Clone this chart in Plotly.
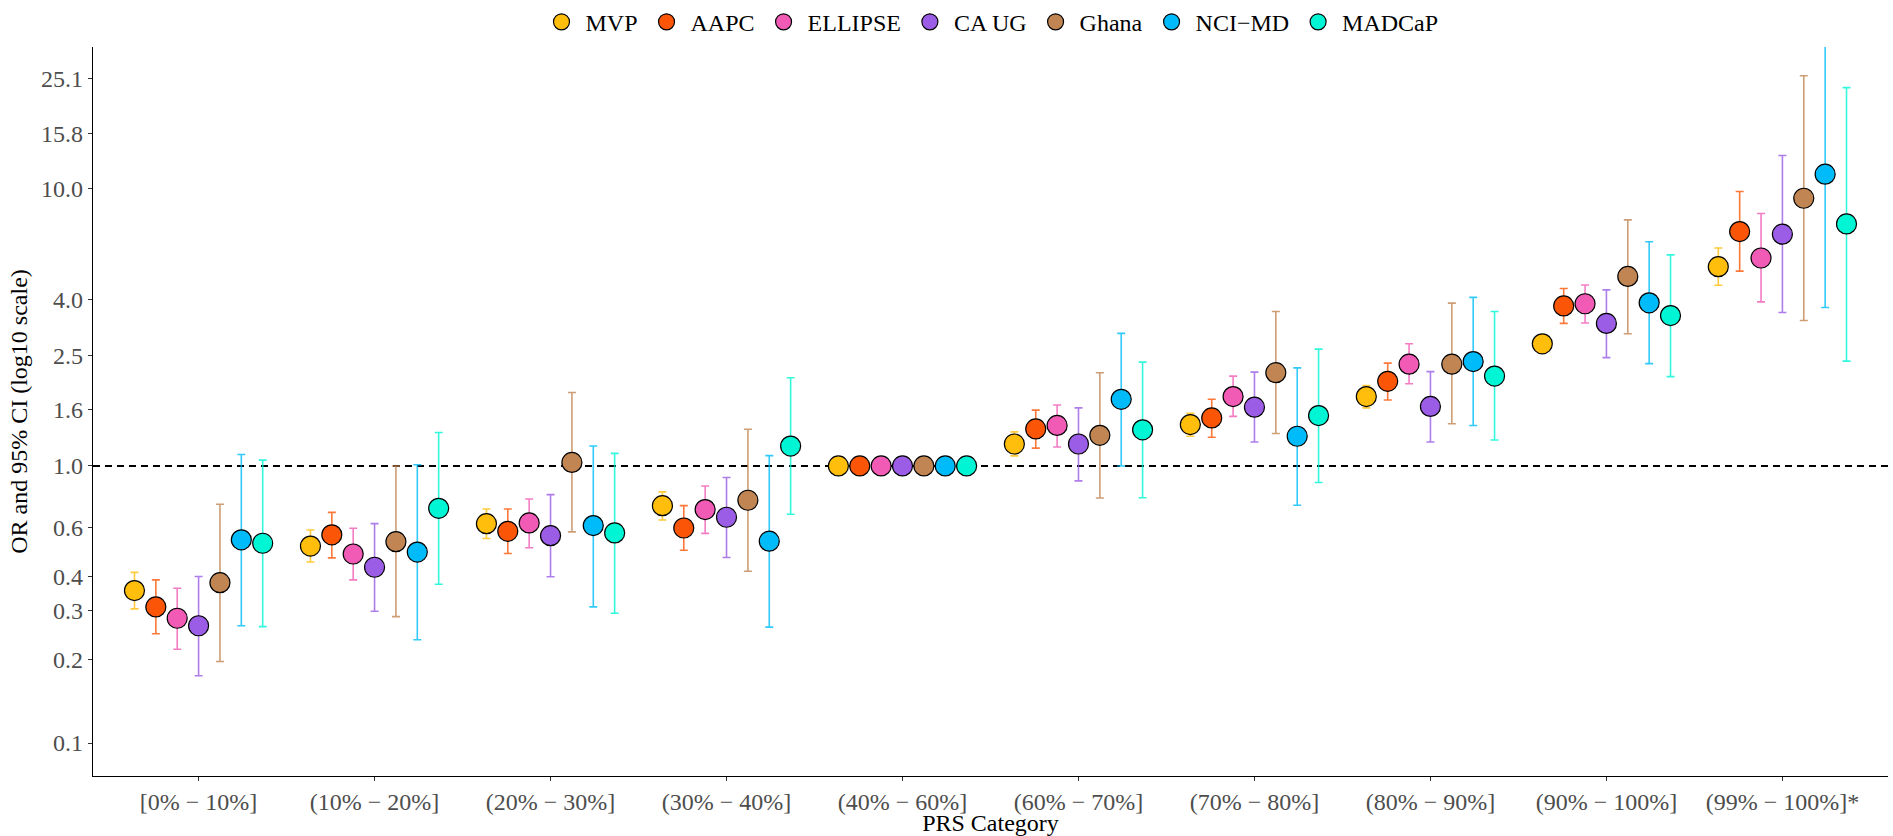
import plotly.graph_objects as go

categories = ["[0% \u2212 10%]", "(10% \u2212 20%]", "(20% \u2212 30%]", "(30% \u2212 40%]",
              "(40% \u2212 60%]", "(60% \u2212 70%]", "(70% \u2212 80%]", "(80% \u2212 90%]",
              "(90% \u2212 100%]", "(99% \u2212 100%]*"]

series_names = ["MVP", "AAPC", "ELLIPSE", "CA UG", "Ghana", "NCI\u2212MD", "MADCaP"]
colors = ["#FFBE0B", "#FB5607", "#F15BB5", "#9B5DE5", "#C08552", "#00BBF9", "#00F5D4"]

mvp_or    = [0.355, 0.514, 0.619, 0.719, 1.0, 1.20, 1.41, 1.78, 2.76, 5.24]
mvp_lo    = [0.305, 0.450, 0.547, 0.638, 1.0, 1.087, 1.28, 1.62, 2.66, 4.49]
mvp_hi    = [0.413, 0.587, 0.699, 0.806, 1.0, 1.327, 1.55, 1.95, 2.86, 6.12]

aapc_or   = [0.310, 0.564, 0.581, 0.597, 1.0, 1.36, 1.49, 2.02, 3.78, 7.01]
aapc_lo   = [0.248, 0.466, 0.483, 0.496, 1.0, 1.16, 1.27, 1.73, 3.27, 5.05]
aapc_hi   = [0.388, 0.680, 0.699, 0.719, 1.0, 1.59, 1.74, 2.35, 4.37, 9.78]

ellipse_or = [0.282, 0.481, 0.623, 0.696, 1.0, 1.40, 1.78, 2.33, 3.85, 5.63]
ellipse_lo = [0.218, 0.388, 0.507, 0.571, 1.0, 1.17, 1.51, 1.98, 3.28, 3.91]
ellipse_hi = [0.362, 0.596, 0.760, 0.847, 1.0, 1.66, 2.11, 2.76, 4.50, 8.15]

caug_or   = [0.265, 0.431, 0.560, 0.653, 1.0, 1.20, 1.63, 1.64, 3.27, 6.86]
caug_lo   = [0.175, 0.299, 0.398, 0.467, 1.0, 0.883, 1.22, 1.22, 2.46, 3.58]
caug_hi   = [0.399, 0.619, 0.788, 0.908, 1.0, 1.62, 2.18, 2.19, 4.32, 13.2]

ghana_or  = [0.379, 0.533, 1.03, 0.752, 1.0, 1.29, 2.17, 2.33, 4.83, 9.25]
ghana_lo  = [0.197, 0.286, 0.578, 0.417, 1.0, 0.766, 1.31, 1.42, 3.00, 3.35]
ghana_hi  = [0.727, 1.00, 1.84, 1.356, 1.0, 2.17, 3.61, 3.87, 7.73, 25.6]

nci_or    = [0.541, 0.489, 0.609, 0.535, 1.0, 1.74, 1.28, 2.38, 3.88, 11.3]
nci_lo    = [0.265, 0.236, 0.310, 0.262, 1.0, 1.00, 0.721, 1.40, 2.34, 3.73]
nci_hi    = [1.10, 1.01, 1.18, 1.09, 1.0, 3.01, 2.26, 4.06, 6.44, 40.0]

madcap_or = [0.526, 0.703, 0.573, 1.18, 1.0, 1.35, 1.52, 2.11, 3.49, 7.47]
madcap_lo = [0.263, 0.374, 0.294, 0.669, 1.0, 0.768, 0.871, 1.24, 2.10, 2.39]
madcap_hi = [1.05, 1.32, 1.11, 2.08, 1.0, 2.37, 2.64, 3.61, 5.78, 23.2]

y_ticks = [0.1, 0.2, 0.3, 0.4, 0.6, 1.0, 1.6, 2.5, 4.0, 10.0, 15.8, 25.1]
y_tick_labels = ["0.1", "0.2", "0.3", "0.4", "0.6", "1.0", "1.6", "2.5", "4.0", "10.0", "15.8", "25.1"]

all_or = [mvp_or, aapc_or, ellipse_or, caug_or, ghana_or, nci_or, madcap_or]
all_lo = [mvp_lo, aapc_lo, ellipse_lo, caug_lo, ghana_lo, nci_lo, madcap_lo]
all_hi = [mvp_hi, aapc_hi, ellipse_hi, caug_hi, ghana_hi, nci_hi, madcap_hi]

FONT = "Liberation Serif"
dodge = 0.85
n = len(series_names)


def rgba(hexc, a):
    h = hexc.lstrip("#")
    return "rgba(%d,%d,%d,%.2f)" % (int(h[0:2], 16), int(h[2:4], 16), int(h[4:6], 16), a)


fig = go.Figure()
for j in range(n):
    off = (j - (n - 1) / 2) * dodge / n
    xs = [i + 1 + off for i in range(len(categories))]
    ors = all_or[j]
    up = [h - o for h, o in zip(all_hi[j], ors)]
    dn = [o - l for o, l in zip(ors, all_lo[j])]
    fig.add_trace(go.Scatter(
        x=xs, y=ors, mode="markers", name=series_names[j],
        marker=dict(size=20, color=colors[j], line=dict(color="black", width=1.2)),
        error_y=dict(type="data", symmetric=False, array=up, arrayminus=dn,
                     color=rgba(colors[j], 0.8), thickness=1.6, width=4),
    ))

fig.add_shape(type="line", xref="paper", x0=0, x1=1, yref="y", y0=1, y1=1,
              line=dict(color="black", width=2, dash="7px,5px"), layer="below")

fig.update_layout(
    width=1893, height=836,
    margin=dict(l=93, r=5, t=47, b=60, autoexpand=False),
    plot_bgcolor="white", paper_bgcolor="white",
    font=dict(family=FONT, size=24, color="black"),
    showlegend=True,
    legend=dict(orientation="h", x=0.5, xanchor="center", y=1.034, yanchor="middle",
                font=dict(family=FONT, size=24, color="black"), itemwidth=38,
                traceorder="normal", tracegroupgap=0),
    xaxis=dict(range=[0.4, 10.6], tickmode="array", tickvals=list(range(1, len(categories) + 1)),
               ticktext=categories, showgrid=False, zeroline=False, showline=True,
               linecolor="black", linewidth=1.2, ticks="outside", ticklen=4, tickcolor="#333333",
               tickfont=dict(family=FONT, size=24, color="#4D4D4D"),
               title=dict(text="PRS Category", font=dict(family=FONT, size=24, color="black"), standoff=3)),
    yaxis=dict(type="log", range=[-1.119, 1.512], tickmode="array", tickvals=y_ticks,
               ticktext=y_tick_labels, showgrid=False, zeroline=False, showline=True,
               linecolor="black", linewidth=1.2, ticks="outside", ticklen=4, tickcolor="#333333",
               tickfont=dict(family=FONT, size=24, color="#4D4D4D"),
               title=dict(text="OR and 95% CI (log10 scale)", font=dict(family=FONT, size=24, color="black"), standoff=6)),
)

fig.write_html("out.html")
